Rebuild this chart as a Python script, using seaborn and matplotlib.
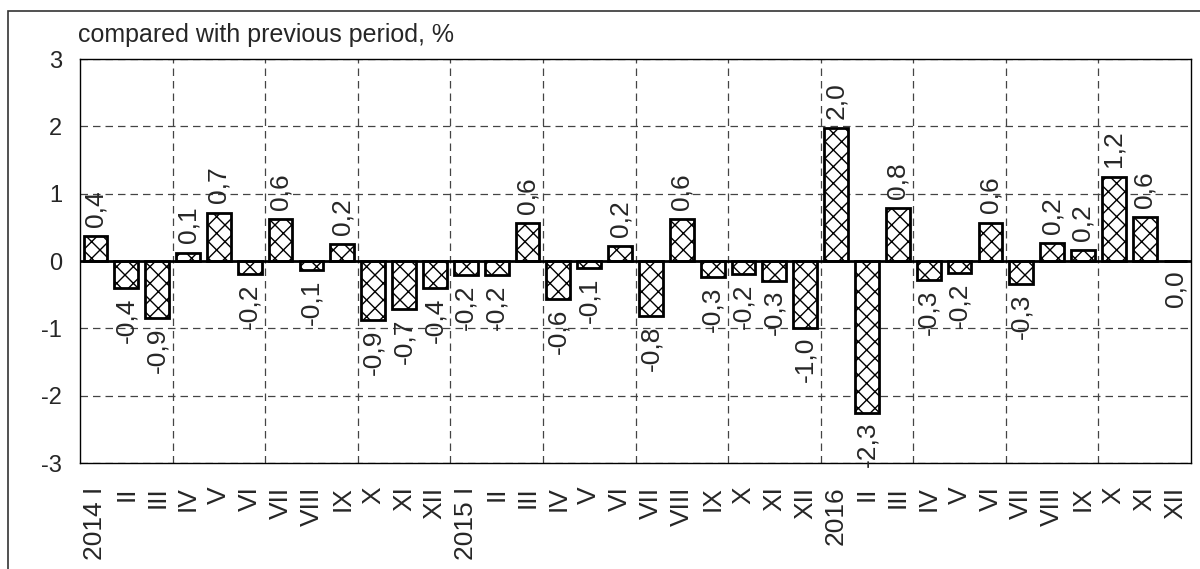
import numpy as np
import matplotlib
matplotlib.use("Agg")
import matplotlib.pyplot as plt
import seaborn as sns
from matplotlib.patches import Rectangle

# monthly change, compared with previous period, %
months = ["I", "II", "III", "IV", "V", "VI", "VII", "VIII", "IX", "X", "XI", "XII"]
tick_labels = (["2014 I"] + months[1:] + ["2015 I"] + months[1:] + ["2016"] + months[1:])

values = [0.37, -0.40, -0.85, 0.12, 0.72, -0.19, 0.62, -0.13, 0.25, -0.88, -0.72, -0.40,
          -0.21, -0.21, 0.56, -0.56, -0.10, 0.22, -0.82, 0.62, -0.24, -0.19, -0.29, -0.99,
          1.97, -2.25, 0.78, -0.28, -0.18, 0.57, -0.34, 0.26, 0.16, 1.25, 0.65, 0.0]

value_labels = ["0,4", "-0,4", "-0,9", "0,1", "0,7", "-0,2", "0,6", "-0,1", "0,2", "-0,9", "-0,7", "-0,4",
                "-0,2", "-0,2", "0,6", "-0,6", "-0,1", "0,2", "-0,8", "0,6", "-0,3", "-0,2", "-0,3", "-1,0",
                "2,0", "-2,3", "0,8", "-0,3", "-0,2", "0,6", "-0,3", "0,2", "0,2", "1,2", "0,6", "0,0"]

sns.set_style("white")
plt.rcParams["font.family"] = ["Liberation Sans", "DejaVu Sans"]
plt.rcParams["axes.unicode_minus"] = False
plt.rcParams["hatch.color"] = "#333333"
plt.rcParams["hatch.linewidth"] = 1.0

fig = plt.figure(figsize=(12, 5.69), dpi=100)
ax = fig.add_axes([80 / 1200, 1 - 463 / 569, 1111 / 1200, 404 / 569])

pos = np.arange(len(values))
sns.barplot(x=pos, y=values, color="white", saturation=1, edgecolor="black",
            linewidth=2, width=0.77, ax=ax, zorder=3)
for p in ax.patches:
    p.set_hatch("xx")

ax.axhline(0, color="black", lw=2, zorder=4)

# value labels, rotated
for x, v, s in zip(pos, values, value_labels):
    if v > 0:
        ax.text(x, v + 0.14, s, rotation=90, ha="center", va="bottom", fontsize=19)
    else:
        ax.text(x, v - 0.14, s, rotation=90, ha="center", va="top", fontsize=19)

ax.set_xlim(-0.5, len(values) - 0.5)
ax.set_ylim(-3, 3)
ax.set_yticks(range(-3, 4))
ax.set_xticks(pos)
ax.set_xticklabels(tick_labels, rotation=90, fontsize=19)
ax.set_xticks(np.arange(2.5, len(values) - 1, 3), minor=True)
ax.tick_params(axis="y", labelsize=17, length=0, pad=13)
ax.tick_params(axis="x", which="both", length=0, pad=17)

ax.grid(axis="y", which="major", ls=(0, (6, 4)), color="#444444", lw=0.9, zorder=0)
ax.grid(axis="x", which="minor", ls=(0, (6, 4)), color="#444444", lw=0.9, zorder=0)
ax.grid(axis="x", which="major", visible=False)
ax.set_xlabel("")
ax.set_ylabel("")

for sp in ax.spines.values():
    sp.set_visible(True)
    sp.set_color("black")
    sp.set_linewidth(1.0)

fig.text(78 / 1200, 1 - 42 / 569, "compared with previous period, %", fontsize=18,
         ha="left", va="baseline")

# outer frame
fig.patches.append(Rectangle((8 / 1200, -0.1), 1.1, 1.1 - 11 / 569, transform=fig.transFigure,
                             fill=False, edgecolor="#333333", lw=1.2, clip_on=False))

fig.savefig("out.png", dpi=100)
